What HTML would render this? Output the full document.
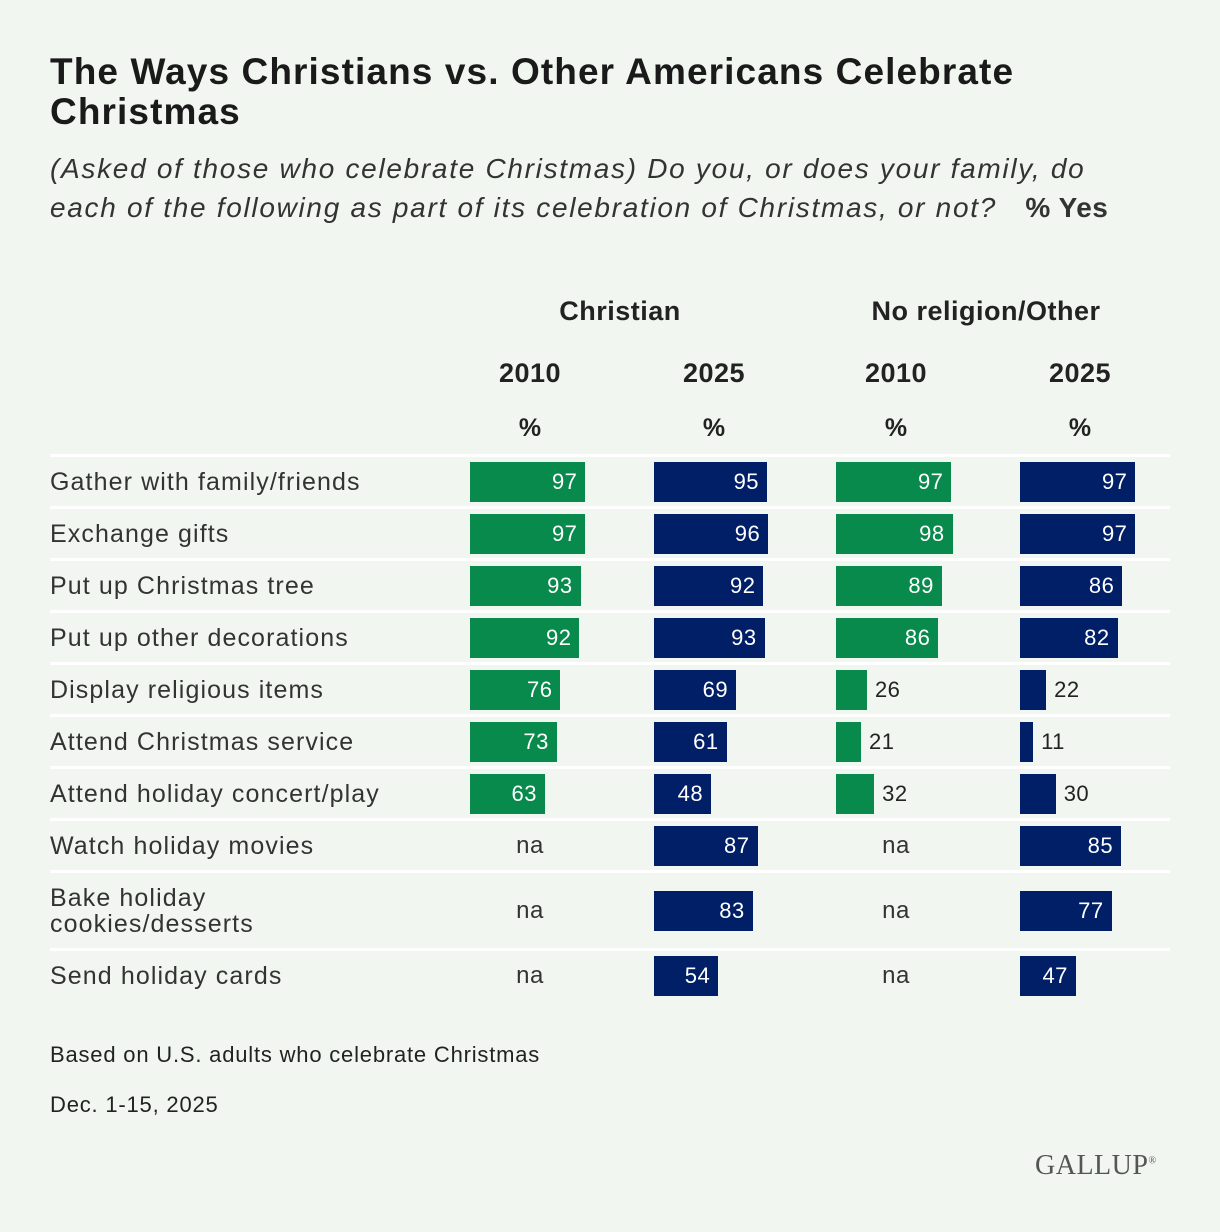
<!DOCTYPE html>
<html><head><meta charset="utf-8"><style>
body{margin:0;background:#f1f7f0;width:1220px;height:1232px;overflow:hidden;font-family:"Liberation Sans",sans-serif;color:#222;position:relative}
.a{position:absolute}
h1{position:absolute;left:50px;top:52px;margin:0;font-size:37px;line-height:40px;font-weight:bold;color:#1a1a1a;width:1060px;letter-spacing:1.1px}
.sub{left:50px;top:149px;font-size:28px;line-height:39px;font-style:italic;color:#333;width:1100px;letter-spacing:1.7px}
.hd{font-weight:bold;font-size:27px;text-align:center;color:#222;letter-spacing:0.5px}
.lbl{left:50px;font-size:25px;line-height:26px;color:#333;letter-spacing:1.1px}
.na{font-size:24px;color:#333;text-align:center;width:120px;letter-spacing:0.5px}
</style></head><body>
<h1>The Ways Christians vs. Other Americans Celebrate Christmas</h1>
<div class="a sub">(Asked of those who celebrate Christmas) Do you, or does your family, do each of the following as part of its celebration of Christmas, or not? &nbsp;&nbsp;<b style="font-style:normal;letter-spacing:0.5px">% Yes</b></div>
<div class="a hd" style="left:470px;width:300px;top:296px">Christian</div>
<div class="a hd" style="left:836px;width:300px;top:296px">No religion/Other</div>
<div id="chart"></div>
<div class="a" style="left:50px;top:1042px;font-size:22px;color:#222;letter-spacing:0.8px">Based on U.S. adults who celebrate Christmas</div>
<div class="a" style="left:50px;top:1092px;font-size:22px;color:#222;letter-spacing:0.8px">Dec. 1-15, 2025</div>
<div class="a" style="left:1035px;top:1150px;font-size:28px;font-family:'Liberation Serif',serif;color:#555;letter-spacing:0.5px">GALLUP<sup style="font-size:10px">®</sup></div>
<script>
const categories=["Gather with family/friends","Exchange gifts","Put up Christmas tree","Put up other decorations","Display religious items","Attend Christmas service","Attend holiday concert/play","Watch holiday movies","Bake holiday<br>cookies/desserts","Send holiday cards"];
const christian2010=[97,97,93,92,76,73,63,null,null,null];
const christian2025=[95,96,92,93,69,61,48,87,83,54];
const other2010=[97,98,89,86,26,21,32,null,null,null];
const other2025=[97,97,86,82,22,11,30,85,77,47];
const yearLabels=["2010","2025","2010","2025"];
const series=[christian2010,christian2025,other2010,other2025];
const colX=[470,654,836,1020], colors=["#078a4c","#001f66","#078a4c","#001f66"];
const scale=1.19;
const c=document.getElementById('chart');
function add(html,style,name){const d=document.createElement('div');d.className='a';d.innerHTML=html;d.style.cssText=style;


c.appendChild(d);return d;}
yearLabels.forEach((y,i)=>{
 add(y,`left:${colX[i]-60}px;width:240px;text-align:center;top:358px;font-weight:bold;font-size:27px;color:#222;letter-spacing:0.5px`,'year-header');
 add('%',`left:${colX[i]-60}px;width:240px;text-align:center;top:414px;font-weight:bold;font-size:25px;color:#222`,'percent-header');
});
let y=454;
categories.forEach((cat,r)=>{
 const h=r===8?78:52;
 add('',`left:50px;width:1120px;top:${y}px;height:3px;background:#fff`,'row-separator');
 const cy=y+3+(h-3)/2;
 const l=add(cat,`top:${cy-(r===8?26:13)}px`,'row-label');l.classList.add('lbl');
 series.forEach((s,i)=>{
  const v=s[r];
  if(v==null){const n=add('na',`left:${colX[i]}px;top:${cy-14}px`,'na-label');n.classList.add('na');return;}
  const w=v*scale;
  add('',`left:${colX[i]}px;top:${cy-20}px;width:${w}px;height:40px;background:${colors[i]}`,'bar');
  if(v>=40) add(v,`left:${colX[i]}px;width:${w-8}px;text-align:right;top:${cy-13}px;color:#fff;font-size:22px;letter-spacing:0.5px`,'bar-value');
  else add(v,`left:${colX[i]+w+8}px;top:${cy-13}px;color:#222;font-size:22px;letter-spacing:0.5px`,'bar-value');
 });
 y+=h;
});
</script>
</body></html>
